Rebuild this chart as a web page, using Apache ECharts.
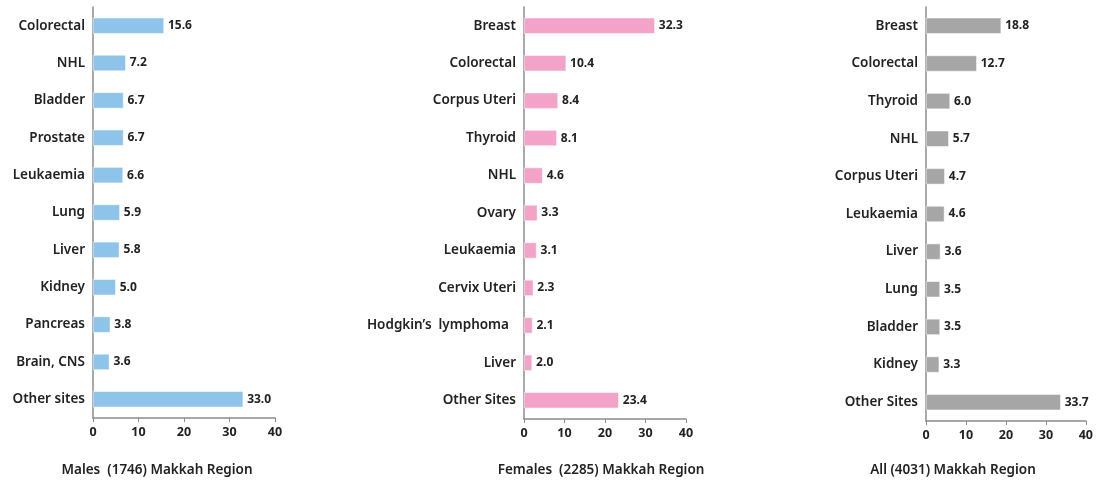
<!DOCTYPE html>
<html>
<head>
<meta charset="utf-8">
<script src="https://cdn.jsdelivr.net/npm/echarts@6/dist/echarts.min.js"></script>
<style>
  html, body { margin: 0; padding: 0; background: #fff; }
  #chart { width: 1096px; height: 482px; }
</style>
</head>
<body>
<div id="chart"></div>
<script>
// 男性
const maleSites = ['Colorectal', 'NHL', 'Bladder', 'Prostate', 'Leukaemia', 'Lung', 'Liver', 'Kidney', 'Pancreas', 'Brain, CNS', 'Other sites']
const maleValues = [15.6, 7.2, 6.7, 6.7, 6.6, 5.9, 5.8, 5.0, 3.8, 3.6, 33.0]
// 女性
const femaleSites = ['Breast', 'Colorectal', 'Corpus Uteri', 'Thyroid', 'NHL', 'Ovary', 'Leukaemia', 'Cervix Uteri', 'Hodgkin’s  lymphoma  ', 'Liver', 'Other Sites']
const femaleValues = [32.3, 10.4, 8.4, 8.1, 4.6, 3.3, 3.1, 2.3, 2.1, 2.0, 23.4]
// 全部
const allSites = ['Breast', 'Colorectal', 'Thyroid', 'NHL', 'Corpus Uteri', 'Leukaemia', 'Liver', 'Lung', 'Bladder', 'Kidney', 'Other Sites']
const allValues = [18.8, 12.7, 6.0, 5.7, 4.7, 4.6, 3.6, 3.5, 3.5, 3.3, 33.7]

const xTicks = [0, 10, 20, 30, 40]
const panelTitles = ['Males  (1746) Makkah Region', 'Females  (2285) Makkah Region', 'All (4031) Makkah Region']
const panelColors = ['#8EC4EA', '#F4A3C8', '#A6A6A6']

const chart = echarts.init(document.getElementById('chart'))

const grids = [
  { left: 93, width: 182, top: 7, height: 411 },
  { left: 524, width: 162, top: 7, height: 412 },
  { left: 926, width: 161, top: 7, height: 414 }
]
// 标题中心位置（参考图里标题不在坐标轴正中）
const titleCenters = [157, 601, 953]
const cats = [maleSites, femaleSites, allSites]
const vals = [maleValues, femaleValues, allValues]

const catFont = { fontFamily: 'Noto Sans', fontWeight: 600, fontSize: 13.5, color: '#222' }
const numFont = { fontFamily: 'Open Sans', fontWeight: 'bold', fontSize: 12, color: '#222' }

chart.setOption({
  animation: false,
  backgroundColor: '#fff',
  title: panelTitles.map((t, i) => ({
    text: t,
    left: titleCenters[i],
    top: 463,
    textAlign: 'center',
    padding: 0,
    textStyle: { fontFamily: 'Noto Sans', fontWeight: 600, fontSize: 13.5, color: '#222' }
  })),
  grid: grids,
  xAxis: grids.map((g, i) => ({
    type: 'value',
    gridIndex: i,
    min: xTicks[0],
    max: xTicks[xTicks.length - 1],
    interval: 10,
    splitLine: { show: false },
    axisLine: { show: true, lineStyle: { color: '#8c8c8c', width: 1.5 } },
    axisTick: { show: true, length: 4, lineStyle: { color: '#8c8c8c' } },
    axisLabel: Object.assign({ margin: 8 }, numFont, { fontSize: 12.5 })
  })),
  yAxis: grids.map((g, i) => ({
    type: 'category',
    gridIndex: i,
    inverse: true,
    data: cats[i],
    axisLine: { show: true, lineStyle: { color: '#8c8c8c', width: 1.5 } },
    axisTick: { show: false },
    axisLabel: Object.assign({ margin: 8, interval: 0 }, catFont)
  })),
  series: grids.map((g, i) => ({
    type: 'bar',
    xAxisIndex: i,
    yAxisIndex: i,
    data: vals[i],
    barWidth: 16,
    itemStyle: { color: panelColors[i], borderColor: '#fff', borderWidth: 0.5 },
    label: {
      show: true,
      position: 'right',
      distance: 4,
      formatter: p => p.value.toFixed(1),
      ...numFont
    }
  }))
})
</script>
</body>
</html>
